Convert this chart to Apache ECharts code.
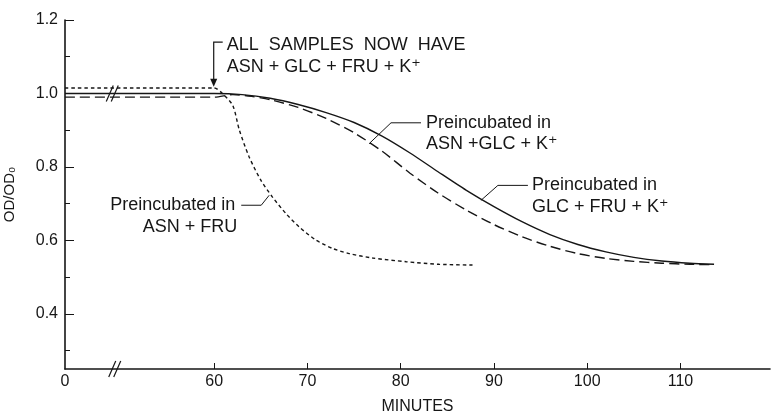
<!DOCTYPE html>
<html>
<head>
<meta charset="utf-8">
<script src="https://cdn.jsdelivr.net/npm/echarts@6/dist/echarts.min.js"></script>
<style>
  html, body { margin: 0; padding: 0; background: #fff; }
  #chart { width: 771px; height: 413px; }
</style>
</head>
<body>
<div id="chart"></div>
<script>
// OD/OD0 against time (minutes)
const timeGlcFru = [0, 60, 63, 66, 69, 72, 75, 78, 81, 84, 87, 90, 93, 96, 99, 102, 105, 108, 111, 113.6];
const odGlcFru   = [1.0, 1.0, 0.997, 0.987, 0.970, 0.948, 0.921, 0.884, 0.838, 0.787, 0.737, 0.692, 0.651, 0.616, 0.589, 0.569, 0.554, 0.544, 0.538, 0.535];

const timeAsnGlc = [0, 60, 62, 64, 66, 69, 72, 75, 78, 81, 84, 87, 90, 93, 96, 99, 102, 105, 108, 111, 113.6];
const odAsnGlc   = [0.99, 0.99, 0.997, 0.992, 0.983, 0.962, 0.932, 0.893, 0.843, 0.783, 0.729, 0.683, 0.643, 0.610, 0.584, 0.564, 0.551, 0.543, 0.538, 0.535, 0.534];

const timeAsnFru = [0, 60, 61, 62, 62.7, 63.75, 65, 66.25, 67.7, 69.1, 70.9, 72.7, 74.5, 77, 80.6, 84.1, 87.7];
const odAsnFru   = [1.015, 1.015, 0.997, 0.967, 0.9, 0.827, 0.764, 0.718, 0.673, 0.637, 0.601, 0.578, 0.564, 0.552, 0.542, 0.535, 0.533];

const xTickMinutes = [0, 60, 70, 80, 90, 100, 110];
const yMajorTicks = [0.4, 0.6, 0.8, 1.0, 1.2];
const yMinorTicks = [0.3, 0.5, 0.7, 0.9, 1.1];

// 0-60 min is squeezed (broken axis): "0" sits at axis position 44
const BREAK_AT = 44;
function toAxis(t) {
  return t <= 60 ? BREAK_AT + t * (60 - BREAK_AT) / 60 : t;
}

const FONT = '"Liberation Sans", "DejaVu Sans", sans-serif';
const INK = '#161616';

const chart = echarts.init(document.getElementById('chart'));

function line(times, ods, dash) {
  return {
    type: 'line',
    data: times.map((t, i) => [toAxis(t), ods[i]]),
    showSymbol: false,
    smooth: 0.25,
    lineStyle: { color: INK, width: 1.4, type: dash },
    silent: true
  };
}

chart.setOption({
  animation: false,
  grid: { left: 65, right: 1, top: 20, bottom: 44, outerBoundsMode: 'none', containLabel: false },
  xAxis: {
    type: 'value',
    min: BREAK_AT,
    max: 119.6,
    name: 'MINUTES',
    nameLocation: 'middle',
    nameGap: 30,
    nameTextStyle: { color: INK, fontFamily: FONT, fontSize: 16 },
    axisLine: { lineStyle: { color: INK, width: 1.6 } },
    axisTick: {
      inside: true, length: 6,
      customValues: xTickMinutes.filter(t => t > 0).map(toAxis),
      lineStyle: { color: INK, width: 1 }
    },
    axisLabel: {
      customValues: xTickMinutes.map(toAxis),
      formatter: v => v === BREAK_AT ? '0' : String(Math.round(v)),
      color: INK, fontFamily: FONT, fontSize: 16, margin: 5
    },
    splitLine: { show: false }
  },
  yAxis: [{
    type: 'value',
    min: 0.25,
    max: 1.2,
    name: 'OD/OD\u2080',
    nameLocation: 'middle',
    nameGap: 48,
    nameTextStyle: { color: INK, fontFamily: FONT, fontSize: 15 },
    axisLine: { show: true, lineStyle: { color: INK, width: 1.6 } },
    axisTick: {
      inside: true, length: 9,
      customValues: yMajorTicks,
      lineStyle: { color: INK, width: 1 }
    },
    axisLabel: {
      customValues: yMajorTicks,
      formatter: v => v.toFixed(1),
      color: INK, fontFamily: FONT, fontSize: 16, margin: 7
    },
    splitLine: { show: false }
  }, {
    type: 'value',
    min: 0.25,
    max: 1.2,
    position: 'left',
    axisLine: { show: false },
    axisTick: {
      show: true, inside: true, length: 5,
      customValues: yMinorTicks,
      lineStyle: { color: INK, width: 1 }
    },
    axisLabel: { show: false },
    splitLine: { show: false }
  }],
  series: [
    line(timeGlcFru, odGlcFru, 'solid'),
    line(timeAsnGlc, odAsnGlc, [10, 5]),
    line(timeAsnFru, odAsnFru, [3.5, 3])
  ]
});

// annotations, anchored to data coordinates
function px(t, v) {
  return chart.convertToPixel({ gridIndex: 0 }, [toAxis(t), v]);
}
function txt(x, y, s, align) {
  return {
    type: 'text', x: x, y: y, silent: true,
    style: { text: s, fill: INK, font: '18px ' + FONT, textAlign: align || 'left', textVerticalAlign: 'middle' }
  };
}
function poly(points, width) {
  return { type: 'polyline', silent: true, shape: { points: points }, style: { stroke: INK, lineWidth: width || 1, fill: null } };
}
function slashes(cx, cy) {
  return [
    poly([[cx - 6, cy + 8], [cx + 1, cy - 8]], 1.2),
    poly([[cx - 1, cy + 8], [cx + 6, cy - 8]], 1.2)
  ];
}

const g = [];

// arrow: "ALL SAMPLES NOW HAVE"
const arrowTip = px(59.8, 1.018);
const arrowTop = px(59.8, 1.14);
g.push(poly([[arrowTop[0] + 9, arrowTop[1]], [arrowTop[0], arrowTop[1]], [arrowTip[0], arrowTip[1] - 6]], 1.2));
g.push({ type: 'polygon', silent: true, shape: { points: [[arrowTip[0] - 3.5, arrowTip[1] - 8], [arrowTip[0] + 3.5, arrowTip[1] - 8], [arrowTip[0], arrowTip[1]]] }, style: { fill: INK } });
g.push(txt(arrowTop[0] + 13, arrowTop[1] + 3, 'ALL  SAMPLES  NOW  HAVE'));
g.push(txt(arrowTop[0] + 13, arrowTop[1] + 25, 'ASN + GLC + FRU + K\u207A'));

// ASN + FRU (dotted)
const a = px(65.9, 0.723);
g.push(poly([[a[0], a[1]], [a[0] - 8, a[1] + 10], [a[0] - 28, a[1] + 10]]));
g.push(txt(a[0] - 34, a[1] + 10, 'Preincubated in', 'right'));
g.push(txt(a[0] - 32, a[1] + 32, 'ASN + FRU', 'right'));

// ASN + GLC + K+ (long dash)
const b = px(76.6, 0.863);
g.push(poly([[b[0], b[1]], [b[0] + 22, b[1] - 21], [b[0] + 52, b[1] - 21]]));
g.push(txt(b[0] + 57, b[1] - 21, 'Preincubated in'));
g.push(txt(b[0] + 57, b[1], 'ASN +GLC + K\u207A'));

// GLC + FRU + K+ (solid)
const c = px(88.6, 0.709);
g.push(poly([[c[0], c[1]], [c[0] + 17, c[1] - 15], [c[0] + 47, c[1] - 15]]));
g.push(txt(c[0] + 51, c[1] - 15, 'Preincubated in'));
g.push(txt(c[0] + 51, c[1] + 7, 'GLC + FRU + K\u207A'));

// break marks on the curves and on the time axis
const brk = px(19, 1.0);
const brkAxis = px(20, 0.25);
slashes(brk[0], brk[1]).forEach(e => g.push(e));
slashes(brkAxis[0], brkAxis[1]).forEach(e => g.push(e));

chart.setOption({ graphic: g });
</script>
</body>
</html>
